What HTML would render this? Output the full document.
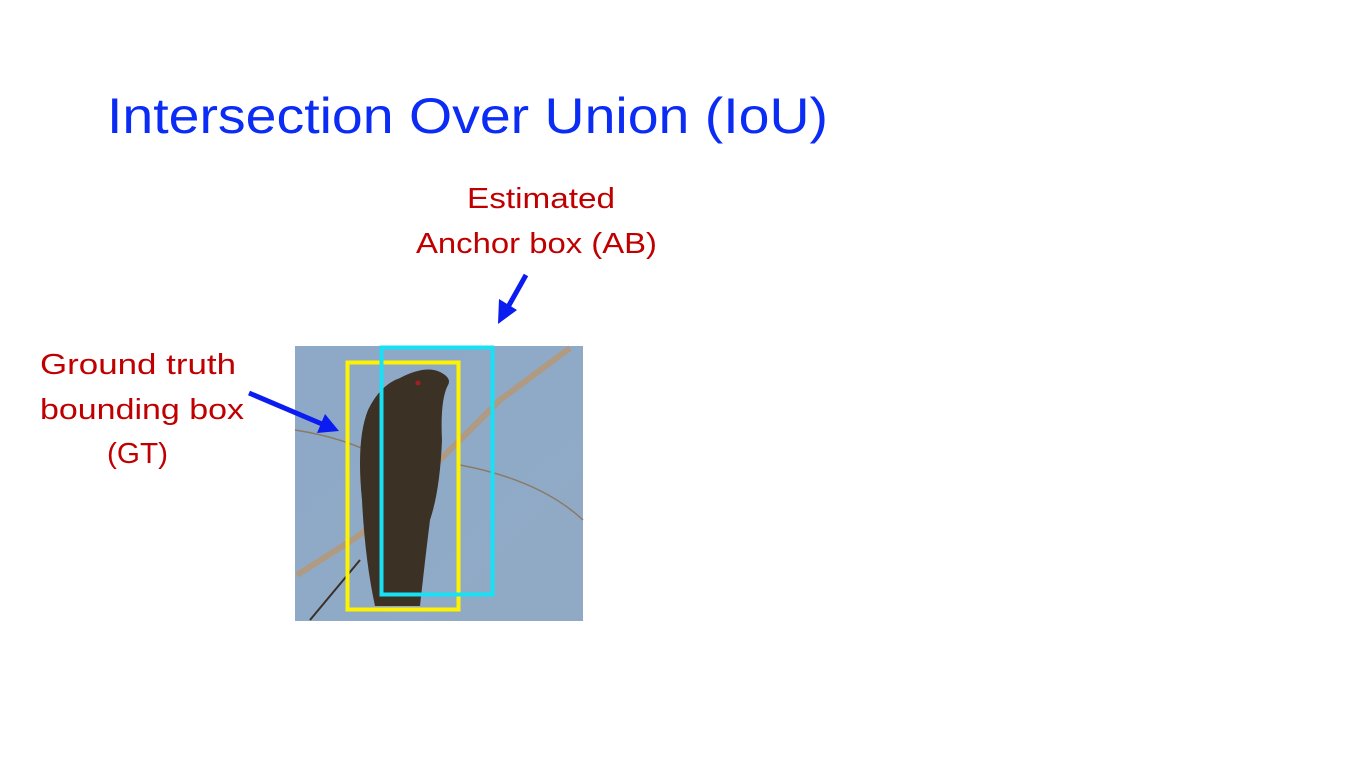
<!DOCTYPE html>
<html><head><meta charset="utf-8"><style>
html,body{margin:0;padding:0;background:#fff;width:1366px;height:768px;overflow:hidden}
svg{display:block}
</style></head><body>
<svg width="1366" height="768" viewBox="0 0 1366 768">
<rect width="1366" height="768" fill="#fff"/>
<text x="107" y="133" font-family="Liberation Sans, sans-serif" font-size="50" fill="#0b2cf5" textLength="721" lengthAdjust="spacingAndGlyphs">Intersection Over Union (IoU)</text>
<g font-family="Liberation Sans, sans-serif" font-size="29" fill="#c00000">
<text x="467" y="208" textLength="148" lengthAdjust="spacingAndGlyphs">Estimated</text>
<text x="416" y="253" textLength="241" lengthAdjust="spacingAndGlyphs">Anchor box (AB)</text>
<text x="40" y="374" textLength="196" lengthAdjust="spacingAndGlyphs">Ground truth</text>
<text x="40" y="419" textLength="204" lengthAdjust="spacingAndGlyphs">bounding box</text>
<text x="107" y="463" textLength="61" lengthAdjust="spacingAndGlyphs">(GT)</text>
</g>
<g>
<defs>
<linearGradient id="sky" x1="0" y1="0" x2="1" y2="1"><stop offset="0" stop-color="#8ea9c8"/><stop offset="1" stop-color="#90aac6"/></linearGradient>
</defs>
<rect x="295" y="346" width="288" height="275" fill="url(#sky)"/>
<path d="M297,575 L360,535 L430,470 L500,400 L570,348" stroke="#b09a82" stroke-width="6" fill="none"/>
<path d="M295,430 Q360,440 400,470" stroke="#8a7a66" stroke-width="1.5" fill="none"/>
<path d="M460,465 Q540,480 583,520" stroke="#8a7a66" stroke-width="1.5" fill="none"/>
<path d="M310,620 L360,560" stroke="#3a3028" stroke-width="2" fill="none"/>
<path d="M400,378 Q425,365 440,372 Q452,378 448,385 Q440,400 442,440 Q440,490 430,520 Q425,560 420,606 L375,606 Q365,560 362,500 Q356,440 368,410 Q380,385 400,378Z" fill="#3b3125"/>
<circle cx="418" cy="383" r="2.5" fill="#a02020"/>
</g>
<rect x="347.5" y="362.5" width="111" height="247" fill="none" stroke="#fff200" stroke-width="4"/>
<rect x="381.5" y="347.5" width="111" height="247" fill="none" stroke="#18e0f5" stroke-width="4"/>
<g>
<line x1="526" y1="275" x2="508" y2="307" stroke="#0a1cf0" stroke-width="5"/>
<polygon points="498,324 499,299 517,310" fill="#0a1cf0"/>
</g>
<g>
<line x1="249" y1="393" x2="322" y2="424" stroke="#0a1cf0" stroke-width="5"/>
<polygon points="339,431 317,433 325,414" fill="#0a1cf0"/>
</g>
</svg>
</body></html>
